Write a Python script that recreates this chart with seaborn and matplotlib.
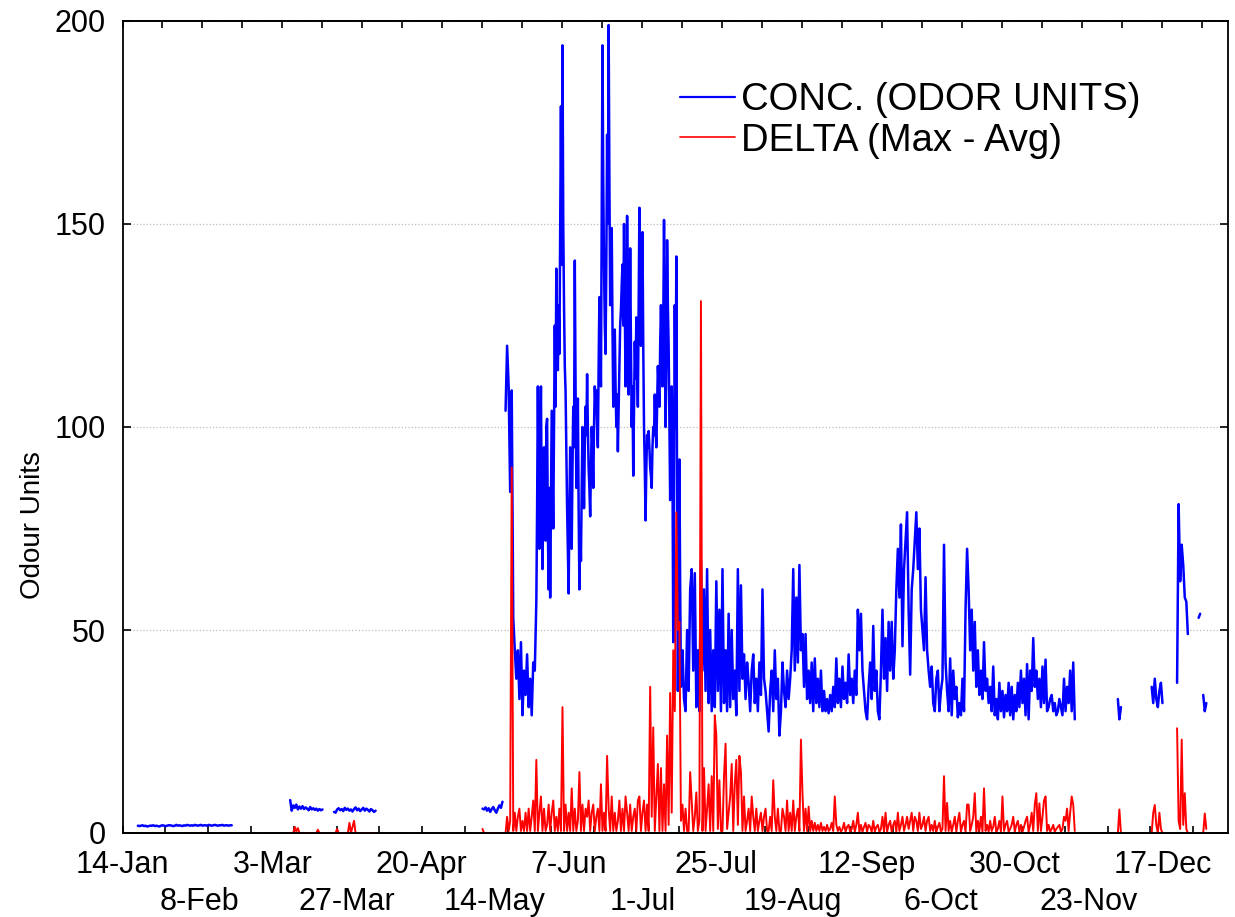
import matplotlib
matplotlib.use("Agg")
import numpy as np
import pandas as pd
import matplotlib.pyplot as plt
import matplotlib.dates as mdates
from matplotlib.lines import Line2D
import seaborn as sns

# ---------------- data ----------------
# CONC. series, pieces of 12-hourly / 6-hourly readings
conc_jan = [1.8, 1.7, 1.8, 1.9, 1.7, 1.8, 1.6, 1.7, 1.8, 1.8, 1.9, 1.7, 1.8, 1.7, 1.6, 1.8,
            1.9, 1.8, 1.7, 1.8, 1.9, 1.9, 1.8, 1.7, 1.8, 2.0, 1.8, 1.9, 1.8, 1.7, 1.9, 1.8,
            2.0, 1.9, 1.8, 1.9, 1.8, 2.0, 1.9, 1.8, 1.9, 2.0, 1.8, 1.9, 1.9, 1.8, 2.0, 1.9,
            1.8, 1.9, 2.0, 1.9, 1.8, 1.9, 1.9, 2.0, 1.8, 1.9, 1.9, 1.8, 1.9, 1.9]
conc_mar1 = [8.1, 5.5, 6.8, 6.2, 7.0, 5.8, 6.5, 6.0, 6.6, 5.9, 6.3, 6.0, 5.6, 6.4, 5.8, 6.1,
             5.7, 6.0, 5.5, 5.9, 5.6, 5.8]
conc_mar2 = [5.2, 5.0, 5.8, 6.1, 5.6, 5.9, 5.4, 6.2, 5.7, 6.0, 5.5, 5.8, 5.3, 5.9, 6.3, 5.6,
             6.0, 5.4, 5.8, 6.2, 5.5, 6.0, 5.7, 5.3, 5.9, 5.6, 5.2, 5.5]
conc_may = [6.0, 5.8, 6.3, 5.5, 6.1, 5.2, 5.9, 6.4, 5.6, 5.0, 6.0, 6.8, 6.2, 7.7]
conc_late_may = [104, 120, 110, 84, 109, 53, 45, 38, 45, 33, 47, 29, 40, 34, 44, 31, 38, 29, 42]
conc_june = [  # 6-hourly, 27-May .. 13-Jul
    40, 48, 57, 80, 110, 85, 70, 95, 110, 80, 65, 90, 95, 78, 72, 100,
    102, 75, 60, 85, 58, 80, 104, 90, 75, 100, 125, 105, 139, 120, 114, 130,
    118, 150, 179, 140, 194, 150, 130, 115, 109, 95, 80, 70, 59, 80, 95, 85,
    70, 90, 105, 95, 141, 110, 85, 95, 107, 80, 60, 75, 67, 85, 100, 90,
    80, 95, 105, 98, 113, 100, 90, 85, 78, 90, 100, 95, 85, 100, 110, 105,
    109, 100, 95, 115, 132, 120, 110, 150, 194, 160, 140, 125, 118, 140, 172, 150,
    199, 160, 130, 140, 149, 125, 105, 115, 124, 110, 100, 108, 94, 105, 115, 125,
    129, 135, 140, 125, 150, 130, 110, 120, 152, 130, 108, 120, 144, 120, 100, 110,
    88, 105, 121, 112, 127, 115, 105, 130, 154, 135, 120, 130, 148, 120, 100, 90,
    77, 90, 98, 95, 99, 95, 90, 88, 85, 95, 100, 98, 108, 100, 95, 105,
    115, 110, 105, 120, 130, 120, 110, 125, 151, 125, 100, 115, 146, 130, 120, 100,
    82, 100, 110, 90, 47, 90, 130, 100, 142, 80, 35, 60, 92, 60, 36, 40]
conc_summer = [  # 12-hourly, 14-Jul .. 19-Nov
    45, 33, 30, 50, 35, 60,
    65, 40, 64, 31, 45, 30, 67, 40, 60, 35, 65, 32, 50, 30, 45, 31, 62, 35, 55, 30,
    65, 32, 45, 30, 54, 31, 50, 33, 40, 29, 65, 35, 61, 38, 44, 33, 42, 37, 30, 40,
    44, 32, 38, 30, 42, 34, 60, 38, 35, 30, 25, 35, 40, 30, 45, 33, 38, 24, 30, 42,
    35, 31, 40, 33, 38, 45, 65, 40, 58, 42, 66, 45, 49, 36, 49, 33, 40, 32, 42, 30,
    43, 32, 38, 31, 40, 30, 35, 30, 33, 29.5, 34, 30, 36, 31, 43, 32, 38, 31, 41, 33,
    37, 32, 44, 34, 38, 32, 40, 34, 55, 45, 54, 40, 35, 30, 28, 36, 42, 33, 51, 35,
    40, 30, 28, 40, 55, 38, 48, 35, 52, 40, 52, 38, 45, 60, 70, 58, 76, 46, 65, 72,
    79, 55, 39, 60, 65, 72, 79, 65, 75, 55, 50, 45, 63, 45, 40, 36, 41, 32, 30, 38,
    40, 30, 35, 38, 71, 42, 35, 30, 43, 29, 40, 33, 36, 28.5, 32, 29, 38, 30, 55, 70,
    60, 45, 55, 40, 52, 36, 45, 34, 40, 33, 47, 35, 38, 32, 36, 30, 41, 29, 33, 28,
    37, 30, 35, 28.5, 34, 30, 37, 29, 36, 28, 34, 30, 37, 31, 40, 32, 38, 29, 41.6, 28,
    40, 35, 48, 36, 40, 33, 38, 31, 41, 32, 42.7, 30, 31, 33, 34, 30, 32, 29, 30, 33,
    31, 29, 38, 30, 36, 32, 40, 30, 42, 28]
conc_dec1 = [33, 28, 31]
conc_dec2 = [36, 32, 38, 33, 31, 35, 37, 32]
conc_dec3 = [37, 81, 62, 71, 66, 58, 57, 49]
conc_dec4 = [53, 54]
conc_dec5 = [34, 30, 32]

conc_pieces = [conc_jan, conc_mar1, conc_mar2, conc_may, conc_late_may, conc_june,
               conc_summer, conc_dec1, conc_dec2, conc_dec3, conc_dec4, conc_dec5]
conc_starts = ['2012-01-19 00:00', '2012-03-08 12:00', '2012-03-22 18:00', '2012-05-10 00:00',
               '2012-05-17 12:00', '2012-05-27 00:00', '2012-07-14 00:00', '2012-12-02 12:00',
               '2012-12-13 12:00', '2012-12-21 18:00', '2012-12-28 18:00', '2012-12-30 06:00']
conc_steps = ['12h', '12h', '12h', '12h', '12h', '6h', '12h', '12h', '12h', '12h', '12h', '12h']
conc_runs = [0, 1, 2, 3, 4, 4, 4, 5, 6, 7, 8, 9]   # pieces sharing a run are one unbroken line

# DELTA series, 12-hourly readings
delta_mar1 = [0, 0, 0, 1.5, 0.4, 1.2, 0, 0, 0, 0, 0, 0, 0, 0, 0, 0, 0, 0, 0.8, 0, 0, 0]
delta_mar2 = [0, 0, 1.0, 0, 0, 0, 0, 0, 0, 0, 2.5, 0, 1.5, 3.0, 0, 0, 0, 0, 0, 0,
              0, 0, 0, 0, 0, 0, 0, 0]
delta_may = [1.0, 0, 0, 0, 0, 0, 0, 0, 0, 0, 0, 0, 0, 0]
delta_main = [0,
    4, 0.5, 3, 90, 0.5, 5, 0.5, 4, 6, 0.5, 3, 0.5, 5, 0.5, 6, 0.5, 4, 8, 0.5, 18,
    0.5, 5, 9, 0.5, 6, 0.5, 2, 7, 0.5, 5, 8, 0.5, 4, 0.5, 6, 0.5, 31, 0.5, 7, 0.5,
    5, 0.5, 11, 0.5, 6, 0.5, 3, 15, 0.5, 7, 0.5, 6, 4, 8, 0.5, 5, 7, 0.5, 4, 6,
    0.5, 12, 0.5, 5, 0.5, 19, 6, 0.5, 9, 0.5, 5, 0.5, 3, 8, 0.5, 6, 0.5, 9, 5, 0.5,
    7, 0.5, 4, 6, 0.5, 8, 9, 0.5, 5, 8, 0.5, 7, 0.5, 36, 4, 26, 0.5, 9, 17, 0.5,
    16, 0.5, 12, 0.5, 24, 2, 34.5, 5, 45, 30, 79, 50, 52, 3, 7, 0.5, 6, 0.5, 0.5, 15,
    8, 0.5, 4, 10, 0.5, 3, 131, 0.5, 16, 0.5, 6, 12, 0.5, 14, 0.5, 29, 24, 1, 13, 0.5,
    0.5, 14, 22, 1, 5, 9, 17, 0.5, 12, 18, 2, 19, 15, 0.5, 9, 0.5, 3, 6, 0.5, 9,
    4, 0.5, 6, 0.5, 3, 5, 0.5, 4, 6, 0.5, 0.5, 4, 0.5, 13, 4, 0.5, 6, 0.5, 0.5, 6,
    4, 0.5, 8, 0.5, 5, 0.5, 8, 0.5, 4, 6, 0.5, 23, 9.8, 0.5, 6, 0.5, 6.5, 0.5, 3, 0.5,
    2.5, 0.5, 2, 0.5, 2.5, 0.5, 1.5, 0.5, 2, 0.5, 1, 2.5, 0.5, 9, 2, 0.5, 1.5, 0.3, 1, 2.5,
    0.3, 1.5, 2, 0.3, 1, 3, 0.3, 2, 5, 0.3, 2, 0.3, 1.5, 2.5, 0.3, 2, 1.5, 0.3, 3, 0.3,
    1.5, 2, 0.3, 1, 4, 0.3, 5, 0.3, 2, 3, 0.3, 2, 3, 0.3, 5, 0.5, 2, 4, 0.5, 2,
    4, 1, 3, 5, 0.5, 4, 3, 0.5, 5, 1, 2, 4, 0.5, 3, 4, 0.5, 2, 0.5, 3, 0.3,
    1.5, 2.5, 0.3, 1, 14, 0.5, 7.4, 0.5, 3, 0.3, 2, 4, 0.3, 3, 5, 0.3, 2, 3, 0.3, 7,
    7, 0.5, 2, 4, 9.8, 0.3, 3, 0.5, 4, 0.3, 11, 0.5, 2, 0.3, 3, 0.5, 1.5, 4, 0.3, 1,
    3, 0.3, 9, 0.5, 2, 3, 0.3, 1, 2, 4, 0.3, 2, 3, 0.3, 2, 0.3, 1.5, 3, 4, 0.3,
    2, 5, 0.5, 7, 9.8, 0.5, 7.3, 0.5, 4, 8, 9, 0.5, 2, 0.3, 1, 2, 0.3, 1, 1.5, 2,
    0.3, 1, 4, 3, 6, 0.5, 5, 9, 7, 0.5]
delta_dec1 = [0, 5.8, 0]
delta_dec2 = [0, 5, 6.9, 2, 0, 5, 1, 0]
delta_dec3 = [25.8, 3, 1, 23, 2, 9.8, 1, 0]
delta_dec4 = [0, 0]
delta_dec5 = [0, 4.8, 1]

delta_pieces = [delta_mar1, delta_mar2, delta_may, delta_main,
                delta_dec1, delta_dec2, delta_dec3, delta_dec4, delta_dec5]
delta_starts = ['2012-03-08 12:00', '2012-03-22 18:00', '2012-05-10 00:00', '2012-05-17 12:00',
                '2012-12-02 12:00', '2012-12-13 12:00', '2012-12-21 18:00', '2012-12-28 18:00',
                '2012-12-30 06:00']

tick_labels = ['14-Jan', '8-Feb', '3-Mar', '27-Mar', '20-Apr', '14-May', '7-Jun', '1-Jul',
               '25-Jul', '19-Aug', '12-Sep', '6-Oct', '30-Oct', '23-Nov', '17-Dec']
series_names = ['CONC. (ODOR UNITS)', 'DELTA (Max - Avg)']


def build(pieces, starts, steps, runs):
    frames = []
    for vals, start, step, run in zip(pieces, starts, steps, runs):
        t = pd.date_range(start, periods=len(vals), freq=step)
        frames.append(pd.DataFrame({'time': t, 'value': vals, 'seg': run}))
    return pd.concat(frames, ignore_index=True)


df_conc = build(conc_pieces, conc_starts, conc_steps, conc_runs)
df_delta = build(delta_pieces, delta_starts, ['12h'] * len(delta_pieces),
                 list(range(len(delta_pieces))))

# ---------------- style ----------------
sns.set_style('white')
plt.rcParams['font.family'] = ['Liberation Sans', 'DejaVu Sans']
for key in ('text.color', 'axes.labelcolor', 'xtick.color', 'ytick.color', 'axes.edgecolor'):
    plt.rcParams[key] = 'black'

BLUE = '#0000ff'
RED = '#ff0000'

fig = plt.figure(figsize=(12.35, 9.17), dpi=100)
ax = fig.add_axes([122.5 / 1235, 1 - 833 / 917, (1228 - 122.5) / 1235, (833 - 21) / 917])

sns.lineplot(data=df_conc, x='time', y='value', units='seg', estimator=None, sort=False,
             color=BLUE, linewidth=1.8, ax=ax, legend=False)
sns.lineplot(data=df_delta, x='time', y='value', units='seg', estimator=None, sort=False,
             color=RED, linewidth=1.4, ax=ax, legend=False)

t0 = pd.Timestamp('2012-01-14')
ax.set_xlim(t0, t0 + pd.Timedelta(days=359.3))
ax.set_ylim(0, 200)

# x labels in two staggered rows
label_pos = pd.to_datetime([f'{s}-2012' for s in tick_labels], format='%d-%b-%Y')
label_num = mdates.date2num(label_pos)
ax.set_xticks(label_num[0::2])
ax.set_xticklabels(tick_labels[0::2])
ax.set_xticks(label_num[1::2], minor=True)
ax.set_xticklabels(tick_labels[1::2], minor=True)
ax.tick_params(axis='x', which='major', length=0, pad=12.5, labelsize=22)
ax.tick_params(axis='x', which='minor', length=0, pad=39, labelsize=22)

# tick marks (inward) on bottom and top
base = mdates.date2num(t0)
sec_b = ax.secondary_xaxis('bottom')
sec_b.set_xticks(base + 13.92 * np.arange(26))
sec_b.tick_params(direction='in', length=5, width=1.2, labelbottom=False)
sec_t = ax.secondary_xaxis('top')
sec_t.set_xticks(base + 13.0 * np.arange(28))
sec_t.tick_params(direction='in', length=5, width=1.2, labeltop=False)
for s in (sec_b, sec_t):
    s.spines[:].set_linewidth(1.3)

ax.set_yticks([0, 50, 100, 150, 200])
ax.tick_params(axis='y', direction='in', left=True, right=True, length=6, width=1.2,
               labelsize=22, pad=12)
ax.yaxis.grid(True, linestyle=':', color='#bdbdbd', linewidth=0.9)
ax.xaxis.grid(False)

for sp in ax.spines.values():
    sp.set_visible(True)
    sp.set_color('black')
    sp.set_linewidth(1.3)

ax.set_xlabel('')
ax.set_ylabel('Odour Units', fontsize=20)
ax.yaxis.set_label_coords(-0.069, 0.379)

handles = [Line2D([], [], color=BLUE, linewidth=1.6), Line2D([], [], color=RED, linewidth=1.2)]
ax.legend(handles, series_names, loc='upper left', bbox_to_anchor=(0.504, 0.925),
          frameon=False, fontsize=27.5, handlelength=1.45, handletextpad=0.16,
          borderpad=0, borderaxespad=0, labelspacing=0.13)

fig.savefig('out.png', dpi=100)
